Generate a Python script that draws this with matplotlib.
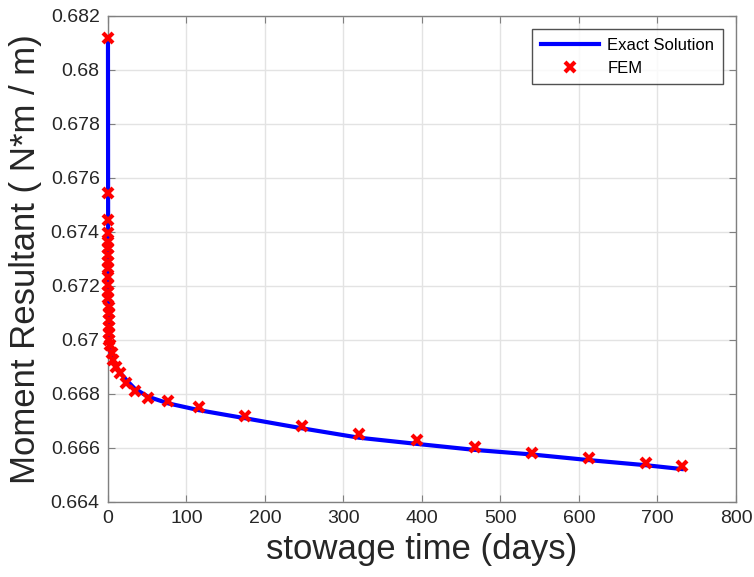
import matplotlib
matplotlib.use("Agg")
import matplotlib.pyplot as plt
from matplotlib.ticker import FuncFormatter

# Exact solution curve
exact_t = [0, 0.3, 1, 2.5, 5, 7, 11, 15, 24, 34, 51, 77, 116, 175, 247, 320,
           394, 467, 540, 613, 686, 731]
exact_m = [0.6812, 0.6705, 0.6699, 0.6696, 0.6694, 0.6692, 0.6690, 0.6688,
           0.6685, 0.6682, 0.6679, 0.66765, 0.66740, 0.66710, 0.66673, 0.66638,
           0.66615, 0.66593, 0.66576, 0.66555, 0.66536, 0.66522]

# FEM points
fem_t = [0, 0.02, 0.05, 0.08, 0.12, 0.16, 0.2, 0.25, 0.3, 0.36, 0.43, 0.5,
         0.6, 0.7, 0.8, 0.95, 1.1, 1.3, 1.6, 2.5, 4.5, 6.8, 10.1, 15.2, 22.8,
         34.2, 51.3, 77.0, 116.3, 174.5, 247, 320, 394, 467, 540, 613, 686, 731]
fem_m = [0.68117, 0.67543, 0.67444, 0.67395, 0.67364, 0.67340, 0.67315,
         0.67290, 0.67265, 0.67235, 0.67204, 0.67179, 0.67154, 0.67124,
         0.67099, 0.67074, 0.67049, 0.67025, 0.67000, 0.66981, 0.66951,
         0.66926, 0.66901, 0.66877, 0.66842, 0.66811, 0.66784, 0.66775,
         0.66751, 0.66719, 0.66683, 0.66653, 0.66628, 0.66603, 0.66582,
         0.66563, 0.66544, 0.66534]

x_ticks = [0, 100, 200, 300, 400, 500, 600, 700, 800]
y_ticks = [0.664, 0.666, 0.668, 0.67, 0.672, 0.674, 0.676, 0.678, 0.68, 0.682]

plt.rcParams['font.family'] = ['Liberation Sans', 'DejaVu Sans']

fig = plt.figure(figsize=(7.54, 5.77), dpi=100)
ax = fig.add_axes([0.1432, 0.1300, 0.8329, 0.8423])

ax.plot(exact_t, exact_m, color='#0000ff', lw=3, label='Exact Solution',
        zorder=3, clip_on=False)
ax.plot(fem_t, fem_m, ls='none', marker='x', color='#ff0000', ms=7, mew=3,
        label='FEM', zorder=4, clip_on=False)

ax.set_xlim(0, 800)
ax.set_ylim(0.664, 0.682)
ax.set_xticks(x_ticks)
ax.set_yticks(y_ticks)
ax.yaxis.set_major_formatter(FuncFormatter(lambda v, p: ('%.3f' % v).rstrip('0')))
ax.grid(True, color='#e3e3e3', lw=1)
ax.set_axisbelow(True)
for s in ax.spines.values():
    s.set_color('#808080')
    s.set_linewidth(1)
ax.tick_params(direction='in', length=5, colors='#808080', labelcolor='#262626',
               labelsize=14, top=True, right=True, pad=6)

ax.set_xlabel('stowage time (days)', fontsize=25, color='#262626', labelpad=4)
ax.set_ylabel('Moment Resultant ( N*m / m)', fontsize=25, color='#262626', labelpad=6)

leg = ax.legend(loc='upper right', fontsize=12, frameon=True, fancybox=False,
                edgecolor='#262626', borderaxespad=0.8, handlelength=3.5,
                borderpad=0.5, labelspacing=0.5, handletextpad=0.5)
leg.get_frame().set_linewidth(1)

fig.savefig('out.png', dpi=100)
